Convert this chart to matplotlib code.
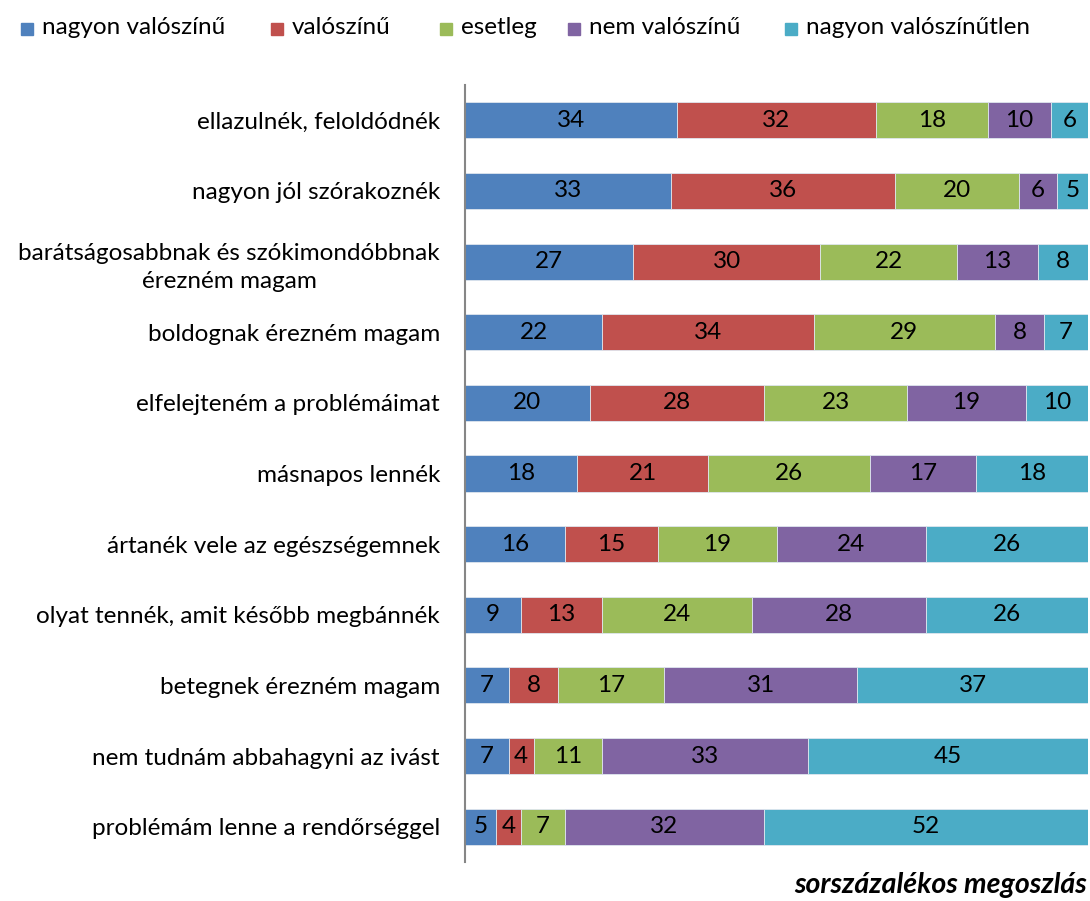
import numpy as np
import matplotlib.pyplot as plt
from matplotlib.patches import Rectangle

plt.rcParams['font.family'] = ['Lato', 'DejaVu Sans']

categories = [
    "ellazulnék, feloldódnék",
    "nagyon jól szórakoznék",
    "barátságosabbnak és szókimondóbbnak\nérezném magam",
    "boldognak érezném magam",
    "elfelejteném a problémáimat",
    "másnapos lennék",
    "ártanék vele az egészségemnek",
    "olyat tennék, amit később megbánnék",
    "betegnek érezném magam",
    "nem tudnám abbahagyni az ivást",
    "problémám lenne a rendőrséggel",
]
series_names = ["nagyon valószínű", "valószínű", "esetleg", "nem valószínű", "nagyon valószínűtlen"]
nagyon_valoszinu = [34, 33, 27, 22, 20, 18, 16, 9, 7, 7, 5]
valoszinu = [32, 36, 30, 34, 28, 21, 15, 13, 8, 4, 4]
esetleg = [18, 20, 22, 29, 23, 26, 19, 24, 17, 11, 7]
nem_valoszinu = [10, 6, 13, 8, 19, 17, 24, 28, 31, 33, 32]
nagyon_valoszinutlen = [6, 5, 8, 7, 10, 18, 26, 26, 37, 45, 52]
colors = ["#4F81BD", "#C0504D", "#9BBB59", "#8064A2", "#4BACC6"]

series = [nagyon_valoszinu, valoszinu, esetleg, nem_valoszinu, nagyon_valoszinutlen]

W, H = 1090, 901
fig = plt.figure(figsize=(W / 100, H / 100), dpi=100)
ax = fig.add_axes([465 / W, 1 - 862 / H, 623 / W, 777 / H])

y = np.arange(len(categories))[::-1]
left = np.zeros(len(categories))
for name, vals, col in zip(series_names, series, colors):
    vals = np.array(vals)
    bars = ax.barh(y, vals, left=left, height=0.51, color=col,
                   edgecolor="#dfe6ee", linewidth=0.6, label=name)
    ax.bar_label(bars, labels=[str(v) for v in vals], label_type='center',
                 fontsize=17.5, color='black')
    left += vals

ax.set_xlim(0, 100)
ax.set_ylim(-0.5, len(categories) - 0.5)
ax.set_yticks(y)
ax.set_yticklabels(categories, fontsize=17.5, linespacing=1.45)
ax.set_xticks([])
for s in ['top', 'right', 'bottom']:
    ax.spines[s].set_visible(False)
ax.spines['left'].set_color('#868686')
ax.spines['left'].set_linewidth(1.5)
ax.tick_params(axis='y', length=0, pad=18)
for t in ax.get_yticklabels():
    t.set_horizontalalignment('right')
    t.set_multialignment('center')

# legend, placed like the original
legend_x = [21, 271, 440, 568, 785]
sq = 12
for lx, name, col in zip(legend_x, series_names, colors):
    fig.patches.append(Rectangle((lx / W, 1 - (29 + sq / 2) / H), sq / W, sq / H,
                                 transform=fig.transFigure, color=col))
    fig.text((lx + sq + 9) / W, 1 - 28 / H, name, ha='left', va='center', fontsize=17.5)

fig.text(1087 / W, 3 / H, "sorszázalékos megoszlás", ha='right', va='bottom',
         fontsize=20.5, fontweight='bold', fontstyle='italic')

fig.savefig("out.png", dpi=100)
